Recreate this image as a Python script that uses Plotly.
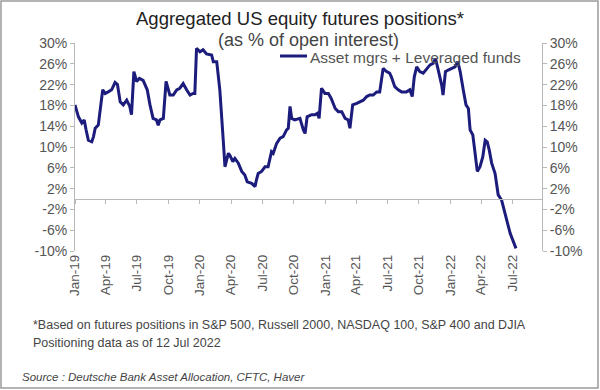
import plotly.graph_objects as go

dates = [
    "2019-01-01", "2019-01-11", "2019-01-21", "2019-01-28", "2019-02-02", "2019-02-09",
    "2019-02-19", "2019-02-24", "2019-03-01", "2019-03-10", "2019-03-23", "2019-03-30",
    "2019-04-08", "2019-04-18", "2019-04-28", "2019-05-05", "2019-05-13", "2019-05-22",
    "2019-06-01", "2019-06-10", "2019-06-15", "2019-06-22", "2019-06-30", "2019-07-08",
    "2019-07-19", "2019-07-31", "2019-08-08", "2019-08-17", "2019-08-27", "2019-09-01",
    "2019-09-06", "2019-09-16", "2019-09-24", "2019-10-05", "2019-10-15", "2019-10-25",
    "2019-11-03", "2019-11-13", "2019-11-23", "2019-12-03", "2019-12-12", "2019-12-17",
    "2019-12-22", "2020-01-01", "2020-01-10", "2020-01-20", "2020-02-04", "2020-02-09",
    "2020-02-19", "2020-02-28", "2020-03-09", "2020-03-14", "2020-03-24", "2020-03-29",
    "2020-04-06", "2020-04-12", "2020-04-22", "2020-05-02", "2020-05-11", "2020-05-18",
    "2020-05-31", "2020-06-10", "2020-06-14", "2020-06-19", "2020-06-29", "2020-07-09",
    "2020-07-18", "2020-07-28", "2020-08-02", "2020-08-12", "2020-08-22", "2020-08-31",
    "2020-09-10", "2020-09-15", "2020-09-20", "2020-09-25", "2020-10-04", "2020-10-19",
    "2020-10-29", "2020-11-03", "2020-11-09", "2020-11-22", "2020-12-02", "2020-12-09",
    "2020-12-14", "2020-12-21", "2020-12-31", "2021-01-10", "2021-01-18", "2021-01-30",
    "2021-02-08", "2021-02-18", "2021-02-28", "2021-03-09", "2021-03-14", "2021-03-22",
    "2021-04-03", "2021-04-12", "2021-04-22", "2021-05-02", "2021-05-11", "2021-05-21",
    "2021-05-31", "2021-06-09", "2021-06-19", "2021-06-29", "2021-07-08", "2021-07-13",
    "2021-07-23", "2021-08-02", "2021-08-12", "2021-08-26", "2021-09-05", "2021-09-12",
    "2021-09-18", "2021-09-25", "2021-10-04", "2021-10-14", "2021-10-24", "2021-11-03",
    "2021-11-12", "2021-11-19", "2021-11-27", "2021-12-07", "2021-12-11", "2021-12-18",
    "2021-12-26", "2022-01-05", "2022-01-15", "2022-01-23", "2022-01-30", "2022-02-08",
    "2022-02-16", "2022-02-23", "2022-02-28", "2022-03-08", "2022-03-15", "2022-03-21",
    "2022-03-29", "2022-04-06", "2022-04-13", "2022-04-19", "2022-04-25", "2022-05-02",
    "2022-05-12", "2022-05-21", "2022-05-31", "2022-06-10", "2022-06-25", "2022-07-12",
]

positions = [
    18.1, 15.8, 14.6, 15.2, 13.4, 11.3,
    11.0, 12.0, 13.6, 14.2, 21.0, 20.3,
    20.6, 21.0, 22.4, 22.0, 18.7, 18.1,
    19.0, 17.8, 16.2, 24.5, 22.6, 23.2,
    22.8, 21.0, 18.1, 15.5, 15.2, 14.2,
    15.2, 15.5, 22.6, 20.0, 20.0, 21.0,
    21.3, 22.2, 21.0, 20.0, 20.3, 20.3,
    29.0, 28.3, 28.7, 27.9, 27.7, 26.4,
    26.4, 21.0, 11.3, 6.2, 8.8, 8.3,
    7.2, 7.8, 6.9, 5.3, 4.6, 3.3,
    3.0, 2.4, 3.7, 4.9, 5.3, 6.2,
    6.2, 9.1, 8.8, 10.7, 11.7, 12.0,
    13.3, 13.6, 17.8, 15.5, 15.2, 15.5,
    13.3, 12.6, 15.8, 16.2, 16.2, 16.5,
    15.5, 21.3, 20.3, 20.3, 19.4, 17.4,
    16.8, 16.8, 15.5, 15.2, 13.6, 18.1,
    18.4, 18.7, 19.0, 19.7, 20.0, 20.0,
    20.6, 20.6, 25.1, 24.5, 24.2, 23.5,
    21.6, 21.0, 20.6, 20.6, 21.0, 19.7,
    23.5, 25.4, 24.5, 24.2, 25.1, 25.8,
    26.1, 27.0, 24.8, 21.9, 20.0, 24.5,
    24.8, 25.1, 25.4, 26.4, 24.5, 21.0,
    18.1, 17.4, 13.3, 12.3, 8.8, 5.3,
    6.2, 8.1, 11.3, 11.0, 9.4, 6.9,
    4.9, 0.8, -0.2, -2.8, -6.6, -9.5,
]

series_name = "Asset mgrs + Leveraged funds"
y_ticks = [-10, -6, -2, 2, 6, 10, 14, 18, 22, 26, 30]
y_tick_labels = [f"{v}%" for v in y_ticks]
x_range = ["2019-01-01", "2022-09-26"]
y_range = [-10, 30]

title = "Aggregated US equity futures positions*"
subtitle = "(as % of open interest)"
note1 = "*Based on futures positions in S&P 500, Russell 2000, NASDAQ 100, S&P 400 and DJIA"
note2 = "Positioning data as of 12 Jul 2022"
source = "Source : Deutsche Bank Asset Allocation, CFTC, Haver"

W, H = 600, 390
L, R, T, B = 75, 58, 43, 139
pw, ph = W - L - R, H - T - B

def px(x):
    return (x - L) / pw

def py(y):
    return (H - B - y) / ph

font = "Liberation Sans, Arial, sans-serif"
axis_grey = "#b8b8b8"
tick_col = "#555555"
line_col = "#1c1c7c"

fig = go.Figure()
fig.add_trace(go.Scatter(
    x=dates, y=positions, mode="lines", name=series_name,
    line=dict(color=line_col, width=3), showlegend=False,
))
# helper trace so the secondary axes (right y axis, zero-crossing x axis) render
fig.add_trace(go.Scatter(
    x=dates, y=positions, mode="lines", xaxis="x2", yaxis="y2",
    line=dict(color="rgba(0,0,0,0)", width=0), showlegend=False, hoverinfo="skip",
))

axis_y = dict(
    range=y_range, tickvals=y_ticks, ticktext=y_tick_labels,
    showgrid=False, zeroline=False, showline=True, linecolor=axis_grey, linewidth=1,
    ticks="outside", ticklen=4, tickcolor=axis_grey,
    tickfont=dict(family=font, size=14, color=tick_col),
)

fig.update_layout(
    width=W, height=H,
    margin=dict(l=L, r=R, t=T, b=B),
    paper_bgcolor="white", plot_bgcolor="white",
    xaxis=dict(
        type="date", range=x_range, tick0="2019-01-01", dtick="M3",
        tickformat="%b-%y", tickangle=-90, showgrid=False, zeroline=False,
        showline=False, ticks="", tickfont=dict(family=font, size=13.5, color=tick_col),
    ),
    xaxis2=dict(
        type="date", matches="x", overlaying="x", anchor="free", position=0.25,
        tick0="2019-01-01", dtick="M3", showticklabels=False, showgrid=False,
        zeroline=False, showline=True, linecolor=axis_grey, linewidth=1,
        ticks="outside", ticklen=4, tickcolor=axis_grey,
    ),
    yaxis=dict(side="left", **axis_y),
    yaxis2=dict(side="right", overlaying="y", anchor="x", **axis_y),
    showlegend=False,
    annotations=[
        dict(text=title, x=px(300), y=py(19), xref="paper", yref="paper", showarrow=False,
             xanchor="center", yanchor="middle", font=dict(family=font, size=18.5, color="#222222")),
        dict(text=subtitle, x=px(308), y=py(40), xref="paper", yref="paper", showarrow=False,
             xanchor="center", yanchor="middle", font=dict(family=font, size=18, color="#444444")),
        dict(text=series_name, x=px(308), y=py(57.5), xref="paper", yref="paper", showarrow=False,
             xanchor="left", yanchor="middle", font=dict(family=font, size=15.5, color="#555555")),
        dict(text=note1, x=px(31), y=py(325), xref="paper", yref="paper", showarrow=False,
             xanchor="left", yanchor="middle", font=dict(family=font, size=12.5, color="#444444")),
        dict(text=note2, x=px(31), y=py(343), xref="paper", yref="paper", showarrow=False,
             xanchor="left", yanchor="middle", font=dict(family=font, size=12.5, color="#444444")),
        dict(text="<i>" + source + "</i>", x=px(20), y=py(377), xref="paper", yref="paper",
             showarrow=False, xanchor="left", yanchor="middle",
             font=dict(family=font, size=11.5, color="#444444")),
    ],
    shapes=[
        dict(type="line", xref="paper", yref="paper", x0=px(280), x1=px(307), y0=py(56), y1=py(56),
             line=dict(color=line_col, width=3)),
        dict(type="rect", xref="paper", yref="paper", x0=px(1), x1=px(598), y0=py(388), y1=py(1),
             line=dict(color="#9a9a9a", width=1.5), fillcolor="rgba(0,0,0,0)", layer="below"),
    ],
)

fig.write_html(
    "out.html",
    config={"displayModeBar": False},
    post_script="document.body.style.margin='0px';",
)
